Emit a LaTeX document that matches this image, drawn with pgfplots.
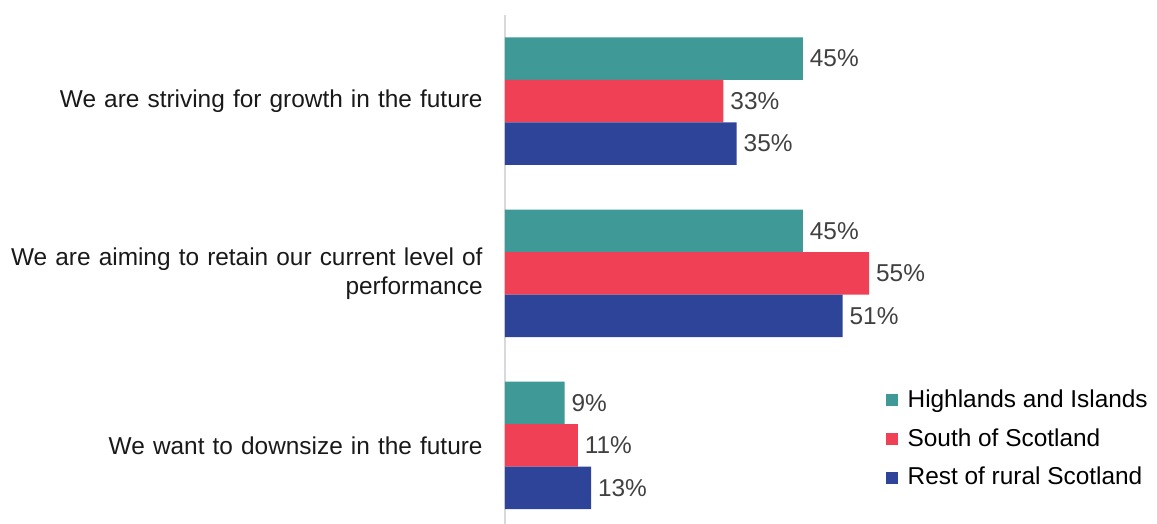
\documentclass[border=0pt]{standalone}
\usepackage{fontspec}
\setmainfont{Liberation Sans}
\usepackage{pgfplots}
\pgfplotsset{compat=1.18}
\definecolor{hiTeal}{HTML}{3F9A97}
\definecolor{soRed}{HTML}{EF4055}
\definecolor{reBlue}{HTML}{2E4499}
\definecolor{lblGray}{HTML}{404040}
\begin{document}
\begin{tikzpicture}
\begin{axis}[
    xbar,
    scale only axis,
    width=326pt, height=254.5pt,
    xmin=0, xmax=98.5,
    ymin=-0.456, ymax=2.5,
    bar width=21.25pt,
    hide x axis,
    axis y line=left,
    y axis line style={-, draw=black!15, line width=0.6pt},
    ytick={0,1,2},
    yticklabels={We want to downsize in the future,
        {We are aiming to retain our current level of\\performance},
        We are striving for growth in the future},
    major tick length=0pt,
    yticklabel style={align=right, text width=245pt, inner sep=0pt,
        xshift=-11pt, font=\fontsize{12.2}{14.5}\selectfont, text=black!90},
    /pgf/number format/assume math mode=true,
    nodes near coords={\pgfmathprintnumber{\pgfplotspointmeta}\%},
    nodes near coords style={anchor=west, xshift=0pt, font=\fontsize{12.2}{14}\selectfont, text=lblGray},
    legend style={at={(0.574,0.28)}, anchor=north west, draw=none,
        font=\fontsize{12.2}{14}\selectfont, row sep=5pt,
        /tikz/every even column/.append style={column sep=2pt}},
    legend cell align=left,
    legend image code/.code={\fill[#1] (0pt,-3pt) rectangle (6pt,3pt);
        \path (9pt,0pt);},
]
\addplot[draw=none, fill=hiTeal, bar shift=21.25pt] coordinates {(9,0) (45,1) (45,2)};
\addplot[draw=none, fill=soRed, bar shift=0pt] coordinates {(11,0) (55,1) (33,2)};
\addplot[draw=none, fill=reBlue, bar shift=-21.25pt] coordinates {(13,0) (51,1) (35,2)};
\legend{Highlands and Islands, South of Scotland, Rest of rural Scotland}
\end{axis}
\pgfresetboundingbox
\path (current axis.south west) ++(-252.5pt,0pt) rectangle ++(578.5pt,262pt);
\end{tikzpicture}
\end{document}
